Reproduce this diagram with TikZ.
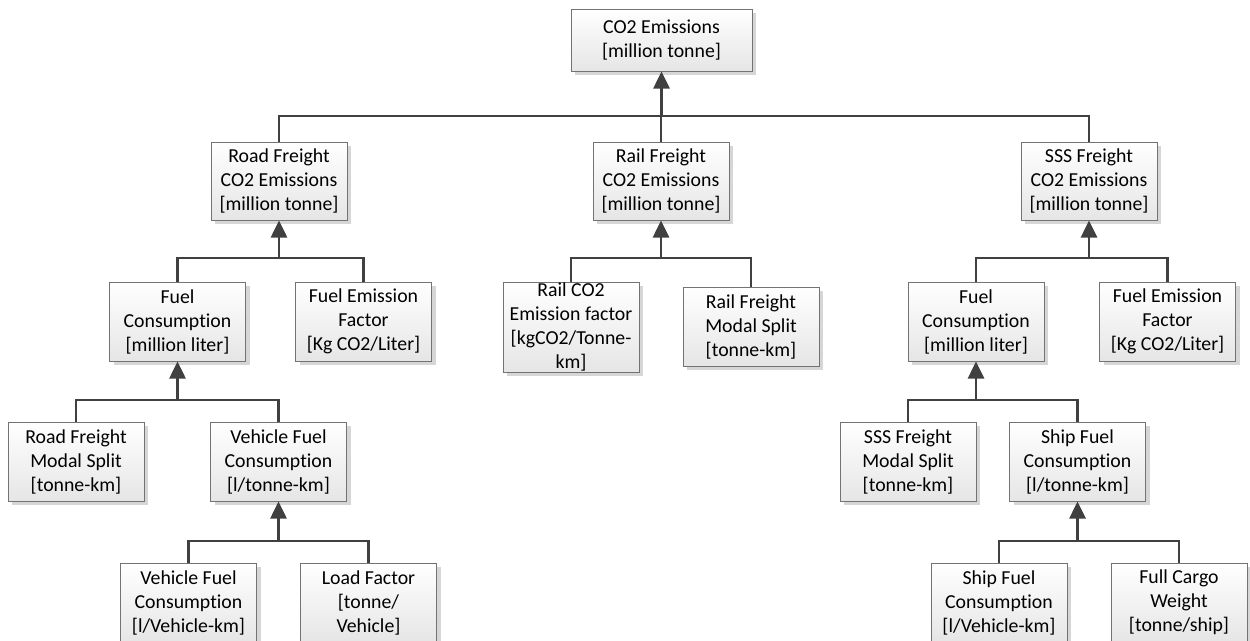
\documentclass[tikz,border=0pt]{standalone}
\usepackage{fontspec}
\setmainfont{Carlito}[Ligatures={NoCommon}]
\usetikzlibrary{arrows.meta,shadows}

\begin{document}
\begin{tikzpicture}[x=1pt, y=-1pt,
  box/.style={rectangle, draw=black!55, line width=1pt,
    top color=white, bottom color=black!10,
    drop shadow={shadow xshift=4pt, shadow yshift=-4pt, fill=black!16, opacity=1},
    minimum width=136pt, minimum height=79pt, inner sep=0pt,
    align=center, font=\fontsize{19.8}{24}\selectfont},
  link/.style={draw=black!75, line width=2.6pt},
  uparrow/.style={link, -{Triangle[length=17pt, width=16pt]}}]

\useasboundingbox (0,0) rectangle (1250,640);

% level 0
\node[box, minimum width=181pt, minimum height=62pt] (total) at (661.5,40) {CO2 Emissions\\{[million tonne]}};

% level 1: emissions per mode
\node[box, minimum height=78pt] (road) at (279,181) {Road Freight\\CO2 Emissions\\{[million tonne]}};
\node[box, minimum height=78pt] (rail) at (661,181) {Rail Freight\\CO2 Emissions\\{[million tonne]}};
\node[box, minimum height=78pt] (sss)  at (1089,181) {SSS Freight\\CO2 Emissions\\{[million tonne]}};

% level 2
\node[box] (roadfuel) at (177.5,321.5) {Fuel\\Consumption\\{[million liter]}};
\node[box] (roadfef)  at (363.5,321.5) {Fuel Emission\\Factor\\{[Kg CO2/Liter]}};
\node[box, minimum height=90pt] (railfac) at (571,327) {Rail CO2\\Emission factor\\{[kgCO2/Tonne-}\\km]};
\node[box] (railms)   at (751,326.5) {Rail Freight\\Modal Split\\{[tonne-km]}};
\node[box] (sssfuel)  at (976,321.5) {Fuel\\Consumption\\{[million liter]}};
\node[box] (sssfef)   at (1167.5,321.5) {Fuel Emission\\Factor\\{[Kg CO2/Liter]}};

% level 3
\node[box] (roadms) at (76,461.5) {Road Freight\\Modal Split\\{[tonne-km]}};
\node[box] (vfc)    at (278.5,461.5) {Vehicle Fuel\\Consumption\\{[l/tonne-km]}};
\node[box] (sssms)  at (908,461.5) {SSS Freight\\Modal Split\\{[tonne-km]}};
\node[box] (shipfc) at (1077.5,461.5) {Ship Fuel\\Consumption\\{[l/tonne-km]}};

% level 4
\node[box] (vfck)   at (188.5,602.5) {Vehicle Fuel\\Consumption\\{[l/Vehicle-km]}};
\node[box] (load)   at (368.5,602.5) {Load Factor\\{[tonne/}\\Vehicle]};
\node[box] (shipvk) at (999,602.5) {Ship Fuel\\Consumption\\{[l/Vehicle-km]}};
\node[box] (cargo)  at (1179,602.5) {Full Cargo\\Weight\\{[tonne/ship]}};

% junction points of the tree connectors
\coordinate (j0) at (661.5,116);
\coordinate (j1) at (279,258);
\coordinate (j2) at (661,258);
\coordinate (j3) at (1089,258);
\coordinate (j4) at (177.5,400);
\coordinate (j5) at (278.5,541);
\coordinate (j6) at (976,400);
\coordinate (j7) at (1077.5,541);

% connectors
\draw[link] (road.north) |- (j0) -| (sss.north);
\draw[link] (rail.north) -- (rail.north |- j0);
\draw[uparrow] (j0) -- (total.south);

\draw[link] (roadfuel.north) |- (j1) -| (roadfef.north);
\draw[uparrow] (j1) -- (road.south);

\draw[link] (railfac.north) |- (j2) -| (railms.north);
\draw[uparrow] (j2) -- (rail.south);

\draw[link] (sssfuel.north) |- (j3) -| (sssfef.north);
\draw[uparrow] (j3) -- (sss.south);

\draw[link] (roadms.north) |- (j4) -| (vfc.north);
\draw[uparrow] (j4) -- (roadfuel.south);

\draw[link] (vfck.north) |- (j5) -| (load.north);
\draw[uparrow] (j5) -- (vfc.south);

\draw[link] (sssms.north) |- (j6) -| (shipfc.north);
\draw[uparrow] (j6) -- (sssfuel.south);

\draw[link] (shipvk.north) |- (j7) -| (cargo.north);
\draw[uparrow] (j7) -- (shipfc.south);

\end{tikzpicture}
\end{document}
